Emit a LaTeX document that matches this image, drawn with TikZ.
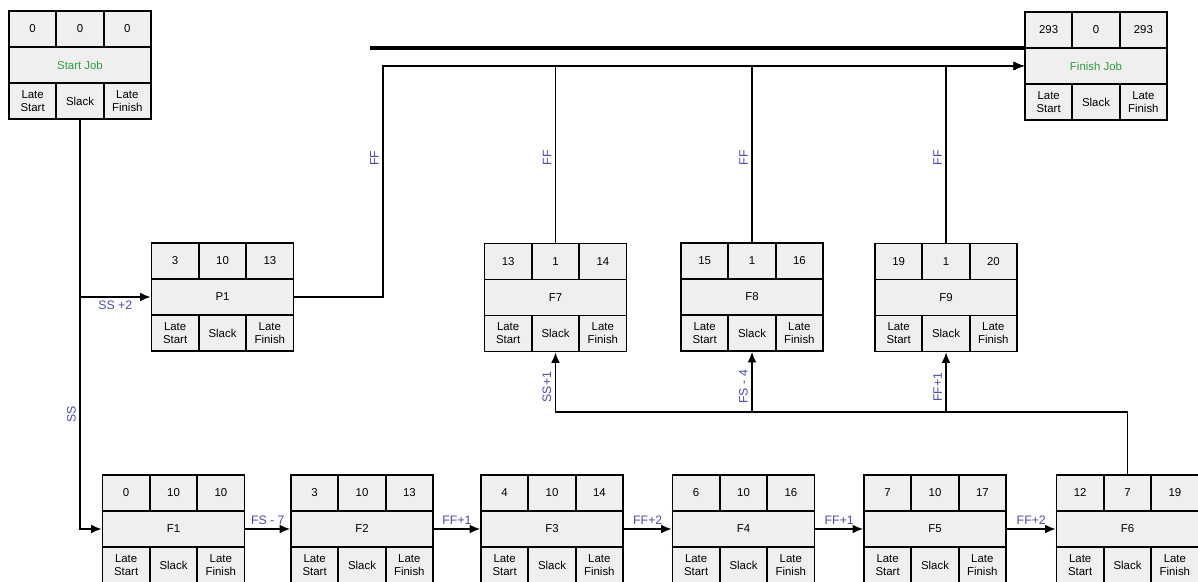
\documentclass[tikz,border=0pt]{standalone}
\usepackage{fontspec}
\setmainfont{Liberation Sans}
\usepackage{tikz}
\usetikzlibrary{arrows.meta, calc}
\definecolor{BoxGray}{HTML}{EFEFEF}
\definecolor{JobGreen}{HTML}{2E9E3E}
\definecolor{LagBlue}{HTML}{4B4BA8}
\tikzset{
    % activity box with sharp corners
    task box/.style={
        rectangle,
        draw=black,
        fill=BoxGray,
        line width=1pt,
        minimum width=2.84cm,
        minimum height=2.16cm,
        inner sep=0pt
    },
    cell line/.style={
        draw=black,
        line width=1pt
    },
    cell text/.style={
        align=center,
        inner sep=0pt,
        font=\fontsize{6.5}{7.5}\selectfont
    },
    link style/.style={
        -{Latex[length=6pt,width=5pt]},
        line width=0.8pt,
        black
    },
    lag label/.style={
        text=LagBlue,
        inner sep=2pt,
        font=\fontsize{7}{8}\selectfont
    },
    bar style/.style={
        line width=2.2pt,
        black
    }
}
\begin{document}
\begin{tikzpicture}
        \useasboundingbox (0,0) rectangle (23.96,11.64);

        % Activity boxes
        \foreach \nm/\x/\y/\es/\sl/\ef/\lbl/\tc in {
            start/1.6/10.34/0/0/0/Start Job/JobGreen,
            finish/21.92/10.32/293/0/293/Finish Job/JobGreen,
            p1/4.45/5.7/3/10/13/P1/black,
            f7/11.11/5.69/13/1/14/F7/black,
            f8/15.04/5.7/15/1/16/F8/black,
            f9/18.92/5.69/19/1/20/F9/black,
            f1/3.47/1.06/0/10/10/F1/black,
            f2/7.24/1.06/3/10/13/F2/black,
            f3/11.04/1.06/4/10/14/F3/black,
            f4/14.87/1.06/6/10/16/F4/black,
            f5/18.7/1.06/7/10/17/F5/black,
            f6/22.55/1.06/12/7/19/F6/black} {
            \node[task box] (\nm) at (\x,\y) {};
            \draw[cell line] ([yshift=0.36cm]\nm.west) -- ([yshift=0.36cm]\nm.east);
            \draw[cell line] ([yshift=-0.36cm]\nm.west) -- ([yshift=-0.36cm]\nm.east);
            \foreach \dx in {-0.473,0.473} {
                \draw[cell line] ([xshift=\dx cm]\nm.north) -- ++(0,-0.72);
                \draw[cell line] ([xshift=\dx cm]\nm.south) -- ++(0,0.72);
            }
            \node[cell text] (\nm-es) at ($(\nm.center)+(-0.947,0.72)$) {\es};
            \node[cell text] (\nm-sl) at ($(\nm.center)+(0,0.72)$) {\sl};
            \node[cell text] (\nm-ef) at ($(\nm.center)+(0.947,0.72)$) {\ef};
            \node[cell text, text=\tc] (\nm-name) at (\nm.center) {\lbl};
            \node[cell text] (\nm-ls) at ($(\nm.center)+(-0.947,-0.72)$) {Late\\Start};
            \node[cell text] (\nm-sk) at ($(\nm.center)+(0,-0.72)$) {Slack};
            \node[cell text] (\nm-lf) at ($(\nm.center)+(0.947,-0.72)$) {Late\\Finish};
        }

        % Thick bar above the finish links
        \coordinate (barstart) at (7.4,10.68);
        \draw[bar style] (barstart) -- (barstart -| finish.west);

        % Links out of the start
        \draw[link style] (start.south) |- node[lag label, below, pos=0.75] {SS +2} (p1.west);
        \draw[link style] (start.south) |- node[lag label, rotate=90, above, pos=0.36] {SS} (f1.west);

        % Links into the finish
        \draw[link style] (p1.east) -- ++(1.77,0) |- node[lag label, rotate=90, above, pos=0.3] {FF} (finish.west);
        \draw[link style] (f7.north) |- node[lag label, rotate=90, above, pos=0.24] {FF} (finish.west);
        \draw[link style] (f8.north) |- node[lag label, rotate=90, above, pos=0.24] {FF} (finish.west);
        \draw[link style] (f9.north) |- node[lag label, rotate=90, above, pos=0.24] {FF} (finish.west);

        % Chain along the bottom
        \draw[link style] (f1.east) -- node[lag label, above] {FS - 7} (f2.west);
        \draw[link style] (f2.east) -- node[lag label, above] {FF+1} (f3.west);
        \draw[link style] (f3.east) -- node[lag label, above] {FF+2} (f4.west);
        \draw[link style] (f4.east) -- node[lag label, above] {FF+1} (f5.west);
        \draw[link style] (f5.east) -- node[lag label, above] {FF+2} (f6.west);

        % Links from F6 up to F7, F8, F9
        \draw[link style] (f6.north) -- ++(0,1.24) -| node[lag label, rotate=90, above, pos=0.71] {SS+1} (f7.south);
        \draw[link style] (f6.north) -- ++(0,1.24) -| node[lag label, rotate=90, above, pos=0.71] {FS - 4} (f8.south);
        \draw[link style] (f6.north) -- ++(0,1.24) -| node[lag label, rotate=90, above, pos=0.71] {FF+1} (f9.south);
    \end{tikzpicture}
\end{document}
